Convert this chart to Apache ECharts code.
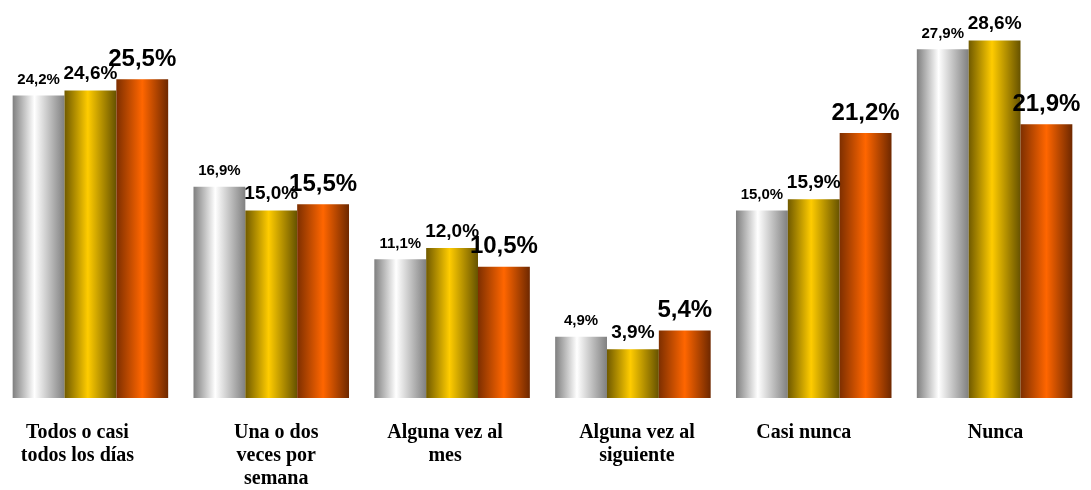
<!DOCTYPE html>
<html>
<head>
<meta charset="utf-8">
<script src="https://cdn.jsdelivr.net/npm/echarts@6/dist/echarts.min.js"></script>
<style>
html,body{margin:0;padding:0;background:#fff;}
#chart{width:1091px;height:490px;}
</style>
</head>
<body>
<div id="chart"></div>
<script>
var categories = ['Todos o casi\ntodos los días', 'Una o dos\nveces por\nsemana', 'Alguna vez al\nmes', 'Alguna vez al\nsiguiente', 'Casi nunca', 'Nunca'];
var seriesA = [24.2, 16.9, 11.1, 4.9, 15.0, 27.9];
var seriesB = [24.6, 15.0, 12.0, 3.9, 15.9, 28.6];
var seriesC = [25.5, 15.5, 10.5, 5.4, 21.2, 21.9];
var labelShift = [-13, 5, -7, 4, -10, 1];

var chart = echarts.init(document.getElementById('chart'));
function grad(edgeL, mid, edgeR, midPos) {
  return new echarts.graphic.LinearGradient(0, 0, 1, 0, [
    {offset: 0, color: edgeL},
    {offset: midPos, color: mid},
    {offset: 1, color: edgeR}
  ]);
}
function fmt(p) { return p.value.toFixed(1).replace('.', ',') + '%'; }
function mkSeries(data, color, size, dist) {
  return {
    type: 'bar',
    data: data,
    barGap: '0%',
    barCategoryGap: '14%',
    itemStyle: {color: color},
    label: {
      show: true, position: 'top', distance: dist,
      formatter: fmt,
      fontFamily: 'Liberation Sans, Arial, sans-serif',
      fontWeight: 'bold', fontSize: size, color: '#000'
    },
    silent: true
  };
}
chart.setOption({
  animation: false,
  grid: {left: -1, right: 6, top: 23, bottom: 90, containLabel: false},
  xAxis: {
    type: 'category',
    data: categories.map(function (c, i) {
      var s = labelShift[i];
      return {value: c, textStyle: {padding: s < 0 ? [0, -2 * s, 0, 0] : [0, 0, 0, 2 * s]}};
    }),
    axisLine: {show: false}, axisTick: {show: false},
    axisLabel: {
      interval: 0, margin: 23,
      fontFamily: 'Liberation Serif, Times New Roman, serif',
      fontWeight: 'bold', fontSize: 20, lineHeight: 23, color: '#000'
    }
  },
  yAxis: {type: 'value', min: 0, max: 30, show: false, splitLine: {show: false}},
  series: [
    mkSeries(seriesA, grad('#7f7f7f', '#ffffff', '#808080', 0.42), 15, 8),
    mkSeries(seriesB, grad('#705a00', '#ffcc00', '#665200', 0.45), 19, 7),
    mkSeries(seriesC, grad('#7e2f00', '#ff6600', '#6e2800', 0.5), 24, 8)
  ]
});
</script>
</body>
</html>
